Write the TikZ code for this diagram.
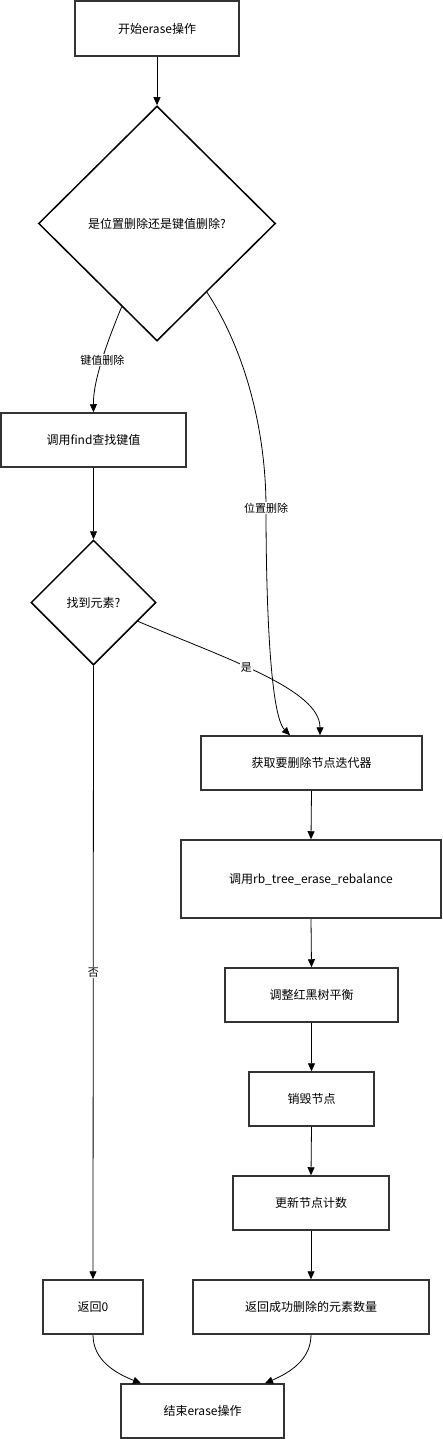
\documentclass[tikz,border=0pt]{standalone}
\usepackage{fontspec}
\setmainfont{Noto Sans CJK SC}
\usetikzlibrary{shapes.geometric,arrows.meta}
\definecolor{boxline}{HTML}{333333}
\tikzset{
  box/.style={draw=boxline, line width=1.5pt, rectangle, inner sep=0pt, font=\fontsize{12}{14}\selectfont},
  dia/.style={draw=black, line width=1.5pt, diamond, inner sep=0pt, font=\fontsize{12}{14}\selectfont},
  conn/.style={line width=0.8pt, -{Triangle[length=8pt,width=7pt]}},
  lbl/.style={fill=white, inner sep=1pt, font=\fontsize{11}{13}\selectfont}
}
\begin{document}
\begin{tikzpicture}[x=1pt,y=-1pt]
\useasboundingbox (0,0) rectangle (442,1439);
\node[box, minimum width=164, minimum height=55] (start) at (157,28.5) {开始erase操作};
\node[dia, minimum width=237, minimum height=235] (d1) at (157,223.5) {是位置删除还是键值删除?};
\node[box, minimum width=185, minimum height=54] (find) at (93.5,440) {调用find查找键值};
\node[dia, minimum width=125, minimum height=125] (d2) at (93.5,602.5) {找到元素?};
\node[box, minimum width=221, minimum height=54] (get) at (311.5,763) {获取要删除节点迭代器};
\node[box, minimum width=260, minimum height=78] (rb) at (311,879) {调用rb\_tree\_erase\_rebalance};
\node[box, minimum width=173, minimum height=54] (adj) at (311.5,995) {调整红黑树平衡};
\node[box, minimum width=125, minimum height=54] (destroy) at (311.5,1099) {销毁节点};
\node[box, minimum width=156, minimum height=54] (upd) at (311,1203) {更新节点计数};
\node[box, minimum width=236, minimum height=54] (retok) at (311,1307) {返回成功删除的元素数量};
\node[box, minimum width=100, minimum height=54] (ret0) at (93,1307) {返回0};
\node[box, minimum width=163, minimum height=54] (end) at (202.5,1411) {结束erase操作};

\draw[conn] (start.south) -- (d1.north);
\draw[conn] (d1.247) .. controls (108,340) and (93,380) .. node[lbl, pos=0.5] {键值删除} (find.north);
\draw[conn] (d1.-54) .. controls (245,350) and (266,430) .. (266,508) node[lbl] {位置删除}
  .. controls (266,600) and (270,715) .. ([xshift=-21.5pt]get.north);
\draw[conn] (find.south) -- (d2.north);
\draw[conn] (d2.-23) .. controls (230,660) and (320,690) .. node[lbl, pos=0.42] {是} ([xshift=8.5pt]get.north);
\draw[conn] (d2.south) -- node[lbl, pos=0.5] {否} (ret0.north);
\draw[conn] (get.south) -- (rb.north);
\draw[conn] (rb.south) -- (adj.north);
\draw[conn] (adj.south) -- (destroy.north);
\draw[conn] (destroy.south) -- (upd.north);
\draw[conn] (upd.south) -- (retok.north);
\draw[conn] (ret0.south) .. controls (93,1360) and (115,1373) .. ([xshift=-61.5pt]end.north);
\draw[conn] (retok.south) .. controls (311,1360) and (289,1373) .. ([xshift=62.5pt]end.north);
\end{tikzpicture}
\end{document}
